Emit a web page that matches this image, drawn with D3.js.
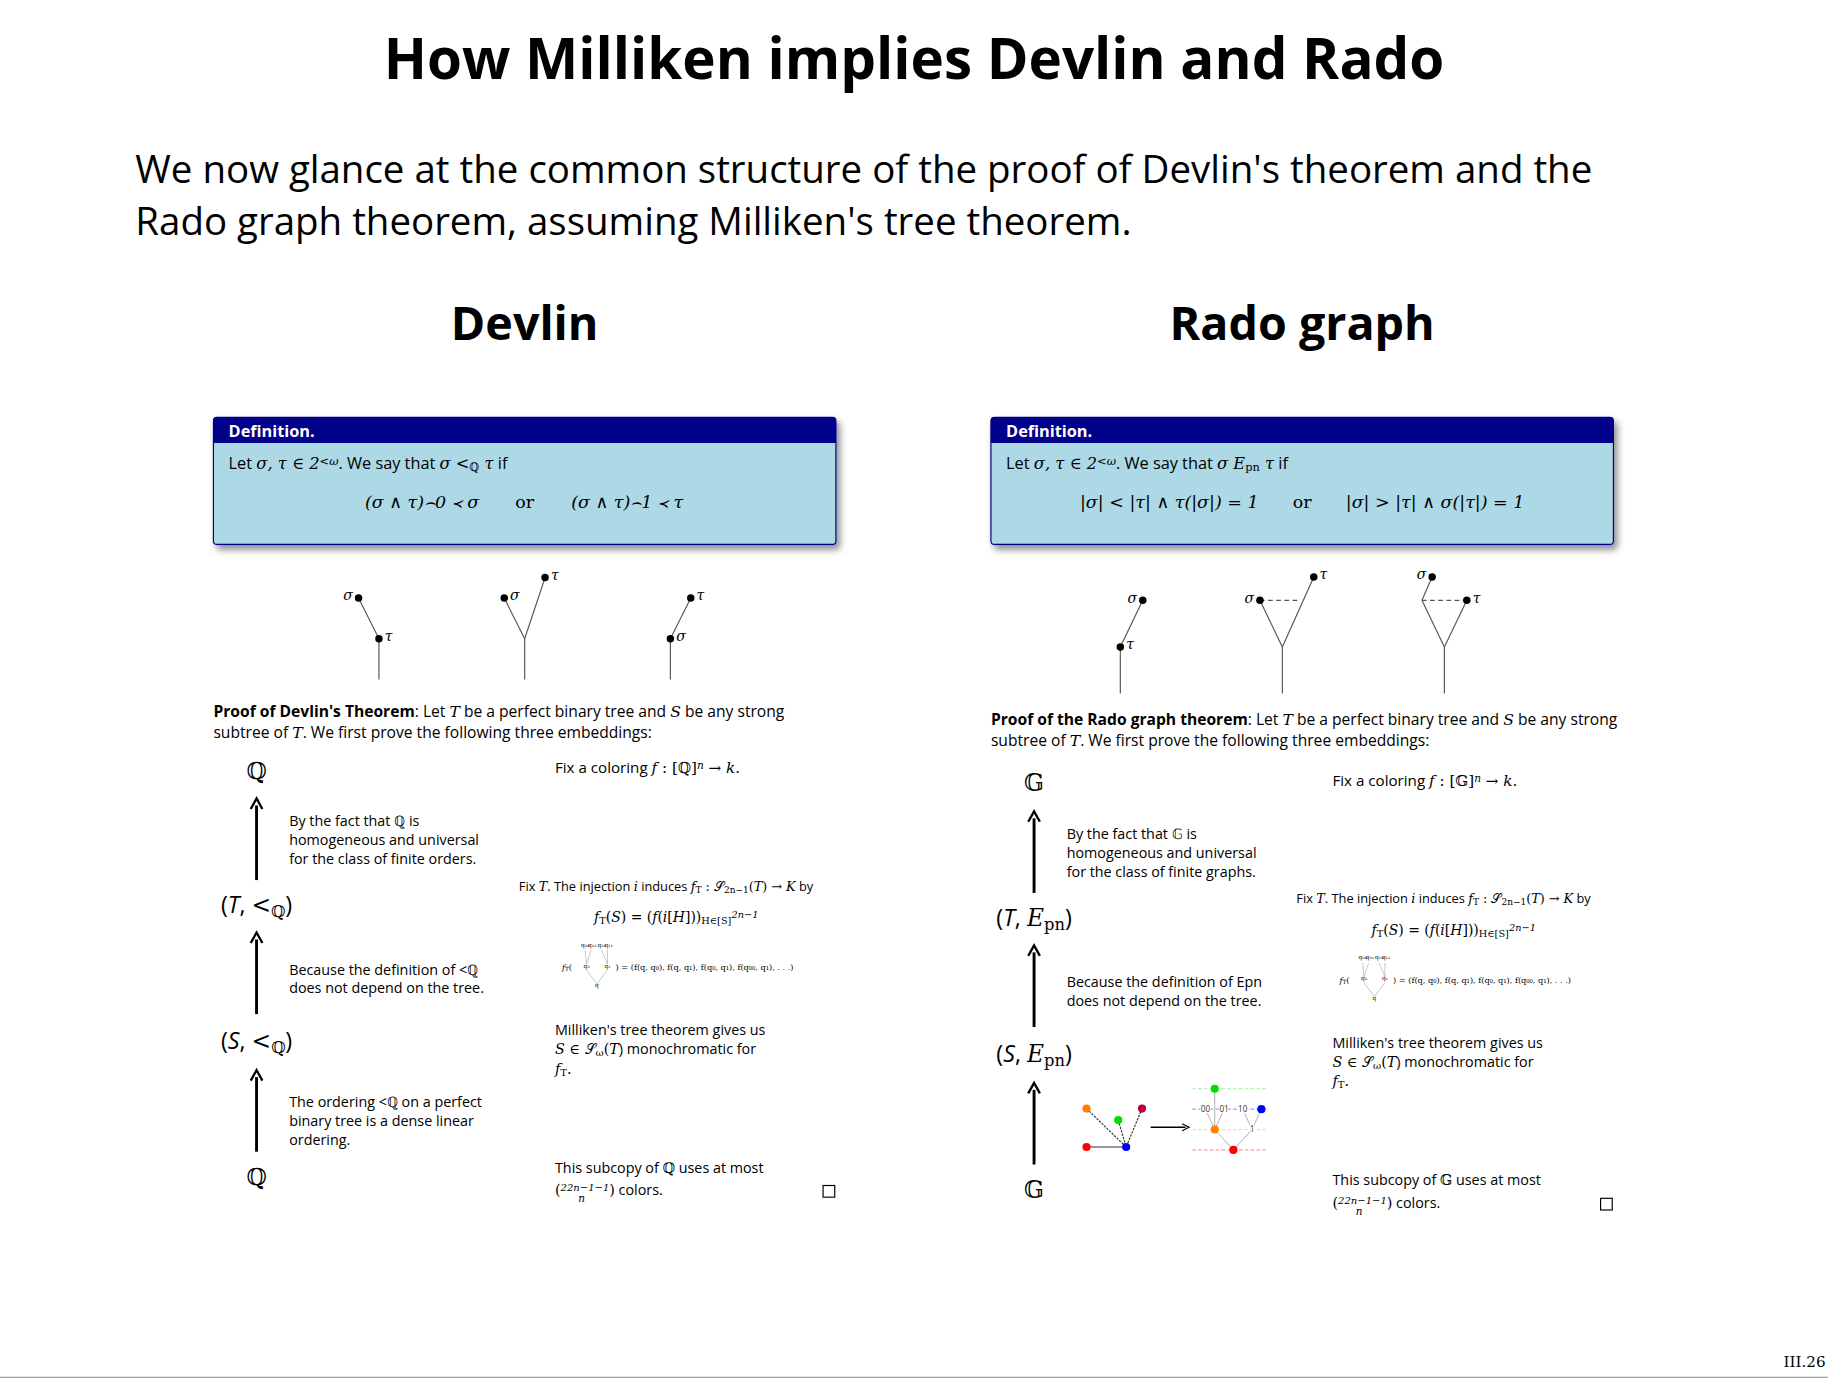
<!DOCTYPE html>
<html><head><meta charset="utf-8">
<script src="https://cdn.jsdelivr.net/npm/d3@7"></script>
<style>body{margin:0;background:#fff}text{font-family:"Open Sans",sans-serif}.m{font-family:"DejaVu Serif","Liberation Serif",serif}</style>
</head><body>
<script>
const title="How Milliken implies Devlin and Rado";
const intro=["We now glance at the common structure of the proof of Devlin's theorem and the","Rado graph theorem, assuming Milliken's tree theorem."];
const panels=["Devlin","Rado graph"];
const defLine=[[["Let ",0],["σ, τ ∈ 2",1],["<ω",2],[". We say that ",0],["σ <",1],["ℚ",3],[" τ",1],[" if",0]],
 [["Let ",0],["σ, τ ∈ 2",1],["<ω",2],[". We say that ",0],["σ E",1],["pn",3],[" τ",1],[" if",0]]];
const defFormula=[["(σ ∧ τ)⌢0 ≺ σ","or","(σ ∧ τ)⌢1 ≺ τ"],["|σ| < |τ|  ∧  τ(|σ|) = 1","or","|σ| > |τ|  ∧  σ(|τ|) = 1"]];
const proofHead=["Proof of Devlin's Theorem","Proof of the Rado graph theorem"];
const symbols=["ℚ","𝔾"];
const rel=["<","E"], relSub=["ℚ","pn"];
const leftTexts=[[["By the fact that ℚ is","homogeneous and universal","for the class of finite orders."],["Because the definition of <ℚ","does not depend on the tree."],["The ordering <ℚ on a perfect","binary tree is a dense linear","ordering."]],
 [["By the fact that 𝔾 is","homogeneous and universal","for the class of finite graphs."],["Because the definition of Epn","does not depend on the tree."],[]]];
const trees=[[{nodes:[[0,-1,"τ","r"],[-0.5,-2,"σ","l"]],edges:[[0,-1,-0.5,-2]],dash:[]},
 {nodes:[[-0.5,-2,"σ","r"],[0.5,-2.5,"τ","r"]],edges:[[0,-1,-0.5,-2],[0,-1,0.5,-2.5]],dash:[]},
 {nodes:[[0,-1,"σ","r"],[0.5,-2,"τ","r"]],edges:[[0,-1,0.5,-2]],dash:[]}],
 [{nodes:[[0,-1,"τ","r"],[0.55,-2,"σ","l"]],edges:[[0,-1,0.55,-2]],dash:[]},
 {nodes:[[-0.55,-2,"σ","l"],[0.77,-2.5,"τ","r"]],edges:[[0,-1,-0.55,-2],[0,-1,0.77,-2.5]],dash:[[-0.55,-2,0.45,-2]]},
 {nodes:[[-0.3,-2.5,"σ","l"],[0.55,-2,"τ","r"]],edges:[[0,-1,-0.55,-2],[-0.55,-2,-0.3,-2.5],[0,-1,0.55,-2]],dash:[[-0.55,-2,0.55,-2]]}]];
const graphNodes=[{x:0,y:0,c:"#ff8000"},{x:0.8,y:0.3,c:"#00e000"},{x:1.4,y:0,c:"#c0003a"},{x:0,y:1,c:"#ff0000"},{x:1,y:1,c:"#0000ff"}];
const graphEdges=[[0,4],[1,4],[2,4],[3,4]];
const treeNodes=[{x:0.5,y:0,c:"#00e000"},{x:0.25,y:1,t:"00"},{x:0.75,y:1,t:"01"},{x:1.25,y:1,t:"10"},{x:1.75,y:1,c:"#0000ff"},{x:0.5,y:2,c:"#ff8000"},{x:1.5,y:2,t:"1"},{x:1,y:3,c:"#ff0000"}];
const treeEdges=[[7,5],[7,6],[5,1],[5,2],[6,3],[6,4],[5,0]];
const levels=[{y:0,c:"#00e000"},{y:1,c:"#0000ff"},{y:2,c:"#ffa040"},{y:3,c:"#ff0000"}];

const svg=d3.select("body").append("svg").attr("width",1828).attr("height",1379).attr("viewBox","0 0 1568 1183");
svg.append("text").attr("x",784).attr("y",68).attr("text-anchor","middle").attr("font-size",48.5).attr("font-weight","bold").text(title);
intro.forEach((t,i)=>svg.append("text").attr("x",116).attr("y",157+i*45).attr("font-size",33).text(t));
const defs=svg.append("defs");
defs.append("filter").attr("id","sh").html('<feDropShadow dx="3" dy="4" stdDeviation="3" flood-opacity="0.45"/>');

function rich(g,x,y,parts,size,anchor){
  const t=g.append("text").attr("x",x).attr("y",y).attr("font-size",size).attr("text-anchor",anchor||"start");
  parts.forEach(([s,k])=>{const sp=t.append("tspan").text(s);
    if(k===1)sp.attr("class","m").attr("font-style","italic");
    if(k===2)sp.attr("class","m").attr("font-style","italic").attr("font-size",size*0.7).attr("baseline-shift","40%");
    if(k===3)sp.attr("class","m").attr("font-size",size*0.7).attr("baseline-shift","-20%");
    if(k===4)sp.attr("class","m");});
  return t;}
function arrow(g,x,y1,y2){g.append("line").attr("x1",x).attr("x2",x).attr("y1",y1).attr("y2",y2+6).attr("stroke","#000").attr("stroke-width",2.5);
  g.append("path").attr("d",`M${x-5},${y2+9}L${x},${y2}L${x+5},${y2+9}`).attr("fill","none").attr("stroke","#000").attr("stroke-width",2);}

panels.forEach((p,pi)=>{
  const ox=pi*667, g=svg.append("g").attr("transform",`translate(${ox},0)`), dy=pi*11;
  g.append("text").attr("x",450).attr("y",292).attr("text-anchor","middle").attr("font-size",40).attr("font-weight","bold").text(p);
  const box=g.append("g").attr("filter","url(#sh)");
  box.append("rect").attr("x",183).attr("y",358).attr("width",534).attr("height",109).attr("rx",3).attr("fill","#add8e6").attr("stroke","#00008b");
  box.append("path").attr("d","M183,380V361q0,-3 3,-3H714q3,0 3,3V380Z").attr("fill","#00008b");
  g.append("text").attr("x",196).attr("y",375).attr("font-size",14).attr("font-weight","bold").attr("fill","#fff").text("Definition.");
  rich(g,196,402,defLine[pi],14);
  const f=defFormula[pi], fx=pi?[1003-667,450,1231-667]:[362,450,538];
  g.append("text").attr("class","m").attr("x",fx[0]).attr("y",436).attr("text-anchor","middle").attr("font-size",15).attr("font-style","italic").text(f[0]);
  g.append("text").attr("class","m").attr("x",fx[1]).attr("y",436).attr("text-anchor","middle").attr("font-size",15).text(f[1]);
  g.append("text").attr("class","m").attr("x",fx[2]).attr("y",436).attr("text-anchor","middle").attr("font-size",15).attr("font-style","italic").text(f[2]);
  const tx=d3.scaleLinear().domain([-1,1]).range([-35,35]);
  const ty=d3.scaleLinear().domain([0,-1]).range([0,pi?-40:-35]);
  const base=pi?595:583, cx=pi?[961,1100,1239].map(v=>v-667):[325,450,575];
  trees[pi].forEach((tr,ti)=>{const tg=g.append("g").attr("transform",`translate(${cx[ti]},${base})`);
    tg.append("line").attr("x1",0).attr("y1",0).attr("x2",0).attr("y2",ty(-1)).attr("stroke","#555");
    tr.edges.forEach(e=>tg.append("line").attr("x1",tx(e[0])).attr("y1",ty(e[1])).attr("x2",tx(e[2])).attr("y2",ty(e[3])).attr("stroke","#555"));
    tr.dash.forEach(e=>tg.append("line").attr("x1",tx(e[0])).attr("y1",ty(e[1])).attr("x2",tx(e[2])).attr("y2",ty(e[3])).attr("stroke","#555").attr("stroke-dasharray","4,3"));
    tr.nodes.forEach(n=>{tg.append("circle").attr("cx",tx(n[0])).attr("cy",ty(n[1])).attr("r",3.2);
      tg.append("text").attr("class","m").attr("font-style","italic").attr("font-size",12).attr("x",tx(n[0])+(n[3]=="r"?5:-5)).attr("y",ty(n[1])+2).attr("text-anchor",n[3]=="r"?"start":"end").text(n[2]);});});
  const py=615+dy*0.6;
  rich(g,183,py,[[proofHead[pi],5],[": Let ",0],["T",1],[" be a perfect binary tree and ",0],["S",1],[" be any strong",0]],13.4).select("tspan").attr("font-weight","bold");
  rich(g,183,py+18,[["subtree of ",0],["T",1],[". We first prove the following three embeddings:",0]],13.4);
  const S=symbols[pi], Y=y=>y+dy;
  g.append("text").attr("class","m").attr("x",220).attr("y",Y(668)).attr("text-anchor","middle").attr("font-size",20).text(S);
  arrow(g,220,Y(755),Y(685));
  const lab=(y,v)=>{const t=g.append("text").attr("x",220).attr("y",Y(y)).attr("text-anchor","middle").attr("font-size",20);
    t.append("tspan").text("(");t.append("tspan").attr("font-style","italic").text(v);t.append("tspan").text(", ");
    t.append("tspan").attr("class","m").attr("font-style",pi?"italic":"normal").text(rel[pi]);
    t.append("tspan").attr("class","m").attr("font-size",14).attr("baseline-shift","-25%").text(relSub[pi]);t.append("tspan").text(")");};
  lab(783,"T"); arrow(g,220,Y(870),Y(800)); lab(900,"S"); arrow(g,220,Y(988),Y(918));
  g.append("text").attr("class","m").attr("x",220).attr("y",Y(1017)).attr("text-anchor","middle").attr("font-size",20).text(S);
  const ly=[709,836,950];
  leftTexts[pi].forEach((ls,k)=>ls.forEach((l,j)=>g.append("text").attr("x",248).attr("y",Y(ly[k]+j*16)).attr("font-size",12.3).text(l)));
  rich(g,476,Y(663),[["Fix a coloring ",0],["f",1],[" : [",4],[S,4],["]",4],["n",2],[" → ",4],["k",1],[".",4]],13);
  rich(g,445,Y(764),[["Fix ",0],["T",1],[". The injection ",0],["i",1],[" induces ",0],["f",1],["T",3],[" : 𝒮",4],["2n−1",3],["(",4],["T",1],[") → ",4],["K",1],[" by",0]],11);
  rich(g,580,Y(791),[["f",1],["T",3],["(",4],["S",1],[") = (",4],["f",1],["(",4],["i",1],["[",4],["H",1],["]))",4],["H∈[S]",3],["2n−1",2]],12,"middle");
  const sx=512,sy=Y(812),tg=g.append("g").attr("transform",`translate(${sx},${sy})`);
  [["q₀₀",-10,0],["q₀₁",-4,0],["q₁₀",4,0],["q₁₁",10,0],["q₀",-9,18],["q₁",9,18],["q",0,35]].forEach(a=>tg.append("text").attr("class","m").attr("font-size",5).attr("text-anchor","middle").attr("x",a[1]).attr("y",a[2]).text(a[0]));
  [[-9,15,-10,3],[-9,15,-5,3],[9,15,4,3],[9,15,9,3],[0,32,-9,20],[0,32,9,20]].forEach(e=>tg.append("line").attr("x1",e[0]).attr("y1",e[1]).attr("x2",e[2]).attr("y2",e[3]).attr("stroke","#888").attr("stroke-width",0.4));
  rich(g,482,Y(832),[["f",1],["T",3],["(",4]],7);
  g.append("text").attr("class","m").attr("x",528).attr("y",Y(832)).attr("font-size",7).text(") = (f(q, q₀), f(q, q₁), f(q₀, q₁), f(q₀₀, q₁), . . .)");
  rich(g,476,Y(888),[["Milliken's tree theorem gives us",0]],12.3);
  rich(g,476,Y(904),[["S",1],[" ∈ 𝒮",4],["ω",3],["(",4],["T",1],[") monochromatic for",0]],12.3);
  rich(g,476,Y(921),[["f",1],["T",3],[".",4]],12.3);
  rich(g,476,Y(1006),[["This subcopy of ",0],[S,4],[" uses at most",0]],12.3);
  rich(g,476,Y(1025),[["(",4],["2",2],["2n−1",2],["−1",2],[")",4],[" colors.",0]],12.3);
  g.append("text").attr("class","m").attr("x",496).attr("y",Y(1031)).attr("font-size",9).attr("font-style","italic").text("n");
  g.append("rect").attr("x",706).attr("y",Y(1017)).attr("width",10).attr("height",10).attr("fill","none").attr("stroke","#000");
});
const gx=d3.scaleLinear().domain([0,1]).range([932,966]), gy=d3.scaleLinear().domain([0,1]).range([951,984]);
const gg=svg.append("g");
graphEdges.forEach(e=>gg.append("line").attr("x1",gx(graphNodes[e[0]].x)).attr("y1",gy(graphNodes[e[0]].y)).attr("x2",gx(graphNodes[e[1]].x)).attr("y2",gy(graphNodes[e[1]].y)).attr("stroke","#333").attr("stroke-width",1).attr("stroke-dasharray",e[0]==3?null:"2,1"));
graphNodes.forEach(n=>gg.append("circle").attr("cx",gx(n.x)).attr("cy",gy(n.y)).attr("r",3.5).attr("fill",n.c));
gg.append("line").attr("x1",987).attr("x2",1017).attr("y1",967).attr("y2",967).attr("stroke","#000").attr("stroke-width",1.2);
gg.append("path").attr("d","M1014,964L1020,967L1014,970").attr("fill","none").attr("stroke","#000");
const hx=d3.scaleLinear().domain([0,1]).range([1026,1058]), hy=d3.scaleLinear().domain([0,1]).range([934,951.5]);
levels.forEach(l=>gg.append("line").attr("x1",hx(-0.1)).attr("x2",hx(1.9)).attr("y1",hy(l.y)).attr("y2",hy(l.y)).attr("stroke",l.c).attr("stroke-opacity",0.4).attr("stroke-dasharray","3,2"));
treeEdges.forEach(e=>gg.append("line").attr("x1",hx(treeNodes[e[0]].x)).attr("y1",hy(treeNodes[e[0]].y)).attr("x2",hx(treeNodes[e[1]].x)).attr("y2",hy(treeNodes[e[1]].y)).attr("stroke","#aaa").attr("stroke-width",0.8));
treeNodes.forEach(n=>{if(n.c)gg.append("circle").attr("cx",hx(n.x)).attr("cy",hy(n.y)).attr("r",3.5).attr("fill",n.c);
  else gg.append("text").attr("x",hx(n.x)).attr("y",hy(n.y)+2.5).attr("text-anchor","middle").attr("font-size",7).attr("fill","#333").attr("paint-order","stroke").attr("stroke","#fff").attr("stroke-width",2).text(n.t);});
svg.append("text").attr("class","m").attr("x",1566).attr("y",1173).attr("text-anchor","end").attr("font-size",13).text("III.26");
svg.append("line").attr("x1",0).attr("x2",1568).attr("y1",1181.5).attr("y2",1181.5).attr("stroke","#888");
</script></body></html>
